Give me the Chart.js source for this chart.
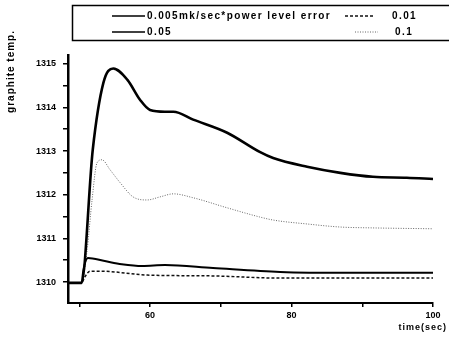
<!DOCTYPE html>
<html>
<head>
<meta charset="utf-8">
<script src="https://cdn.jsdelivr.net/npm/chart.js@4.4.1/dist/chart.umd.min.js"></script>
<style>
  html, body { margin: 0; padding: 0; background: #fff; }
  #wrap { width: 449px; height: 339px; position: relative; }
</style>
</head>
<body>
<div id="wrap"><canvas id="myChart" width="449" height="339"></canvas></div>
<script>
// series labels (legend order)
const seriesLabels = ['0.005mk/sec*power level error', '0.01', '0.05', '0.1'];

// time (sec) and graphite temp for each curve
const timeA = [48.4, 50.3, 51.9, 53.4, 54.8, 56.8, 58.6, 60, 62.1, 63.3, 66.1, 70.9, 75.5, 77.4, 82.2, 86.9, 91.5, 96.3, 100];
const tempA = [1309.98, 1309.98, 1313.03, 1314.56, 1314.89, 1314.63, 1314.17, 1313.94, 1313.9, 1313.9, 1313.72, 1313.42, 1312.98, 1312.84, 1312.64, 1312.5, 1312.41, 1312.39, 1312.36];

const timeB = [48.4, 50.3, 50.8, 51.5, 52.9, 59.6, 68.9, 78.4, 100];
const tempB = [1309.98, 1309.98, 1310.12, 1310.25, 1310.25, 1310.16, 1310.14, 1310.09, 1310.09];

const timeC = [48.4, 50.3, 50.6, 51.2, 53.6, 56.0, 58.9, 62.1, 68.9, 78.4, 87.8, 100];
const tempC = [1309.98, 1309.98, 1310.3, 1310.55, 1310.48, 1310.41, 1310.37, 1310.39, 1310.32, 1310.23, 1310.21, 1310.21];

const timeD = [48.4, 50.3, 51.1, 51.8, 52.5, 53.2, 54.35, 55.8, 57.6, 59.6, 61.4, 63.3, 66.1, 70.9, 75.5, 77.4, 82.2, 86.9, 91.5, 100];
const tempD = [1309.98, 1309.98, 1310.73, 1311.88, 1312.73, 1312.8, 1312.57, 1312.27, 1311.95, 1311.88, 1311.95, 1312.02, 1311.93, 1311.7, 1311.49, 1311.42, 1311.33, 1311.26, 1311.24, 1311.22];

// axis ticks
const xTicks = [50, 60, 70, 80, 90, 100];
const xLabels = [60, 80, 100];
const yTicks = [1310, 1310.5, 1311, 1311.5, 1312, 1312.5, 1313, 1313.5, 1314, 1314.5, 1315];
const yLabels = [1310, 1311, 1312, 1313, 1314, 1315];

const pts = (xs, ys) => xs.map((x, i) => ({ x: x, y: ys[i] }));

const tickFont = { family: 'Liberation Sans, Arial, sans-serif', size: 9, weight: 'bold' };

// legend box + axis titles drawn by hand
const extras = {
  id: 'extras',
  afterDraw(chart) {
    const ctx = chart.ctx;
    ctx.save();
    ctx.strokeStyle = '#000';
    ctx.lineWidth = 1.5;
    ctx.strokeRect(72.5, 5.5, 390, 35);

    ctx.font = 'bold 10px Liberation Sans, Arial, sans-serif';
    ctx.letterSpacing = '1.4px';
    ctx.fillStyle = '#000';
    ctx.textBaseline = 'middle';
    const spots = [
      { x0: 112, x1: 145, tx: 147, y: 16 },
      { x0: 345, x1: 375, tx: 392, y: 16 },
      { x0: 112, x1: 145, tx: 147, y: 32 },
      { x0: 355, x1: 378, tx: 395, y: 32 }
    ];
    chart.data.datasets.forEach((ds, i) => {
      const s = spots[i];
      ctx.beginPath();
      ctx.setLineDash(ds.borderDash || []);
      ctx.lineWidth = Math.min(ds.borderWidth, 1.6);
      ctx.strokeStyle = ds.borderColor;
      ctx.moveTo(s.x0, s.y);
      ctx.lineTo(s.x1, s.y);
      ctx.stroke();
      ctx.setLineDash([]);
      ctx.fillText(ds.label, s.tx, s.y);
    });

    // axis titles
    ctx.font = 'bold 9px Liberation Sans, Arial, sans-serif';
    ctx.letterSpacing = '1px';
    ctx.textAlign = 'right';
    ctx.fillText('time(sec)', 447, 328);
    ctx.font = 'bold 10px Liberation Sans, Arial, sans-serif';
    ctx.translate(11, 30);
    ctx.rotate(-Math.PI / 2);
    ctx.textAlign = 'right';
    ctx.fillText('graphite temp.', 0, 0);
    ctx.restore();
  }
};

const ctx = document.getElementById('myChart').getContext('2d');
new Chart(ctx, {
  type: 'line',
  data: {
    datasets: [
      { label: seriesLabels[0], data: pts(timeA, tempA), borderColor: '#000', borderWidth: 2.6 },
      { label: seriesLabels[1], data: pts(timeB, tempB), borderColor: '#111', borderWidth: 1.5, borderDash: [3, 2] },
      { label: seriesLabels[2], data: pts(timeC, tempC), borderColor: '#000', borderWidth: 2 },
      { label: seriesLabels[3], data: pts(timeD, tempD), borderColor: '#666', borderWidth: 1, borderDash: [1, 1.5] }
    ]
  },
  options: {
    responsive: false,
    animation: false,
    layout: { padding: { top: 55, right: 16, left: 0, bottom: 0 } },
    elements: {
      point: { radius: 0 },
      line: { cubicInterpolationMode: 'monotone', fill: false }
    },
    plugins: { legend: { display: false }, tooltip: { enabled: false } },
    scales: {
      x: {
        type: 'linear',
        min: 48.4,
        max: 100,
        afterBuildTicks: (s) => { s.ticks = xTicks.map(v => ({ value: v })); },
        afterFit: (s) => { s.height = 36; },
        border: { display: true, color: '#000', width: 2 },
        grid: { drawOnChartArea: false, drawTicks: true, tickLength: 4, color: '#000', lineWidth: 1.5 },
        ticks: {
          color: '#000', font: tickFont, padding: 3, maxRotation: 0, autoSkip: false,
          callback: (v) => xLabels.includes(v) ? String(v) : ''
        }
      },
      y: {
        type: 'linear',
        min: 1309.52,
        max: 1315.2,
        afterBuildTicks: (s) => { s.ticks = yTicks.map(v => ({ value: v })); },
        afterFit: (s) => { s.width = 68; },
        border: { display: true, color: '#000', width: 2.5 },
        grid: { drawOnChartArea: false, drawTicks: true, tickLength: 5, color: '#000', lineWidth: 1.5 },
        ticks: {
          color: '#000', font: tickFont, padding: 7, autoSkip: false,
          callback: (v) => yLabels.includes(v) ? String(v) : ''
        }
      }
    }
  },
  plugins: [extras]
});
</script>
</body>
</html>
